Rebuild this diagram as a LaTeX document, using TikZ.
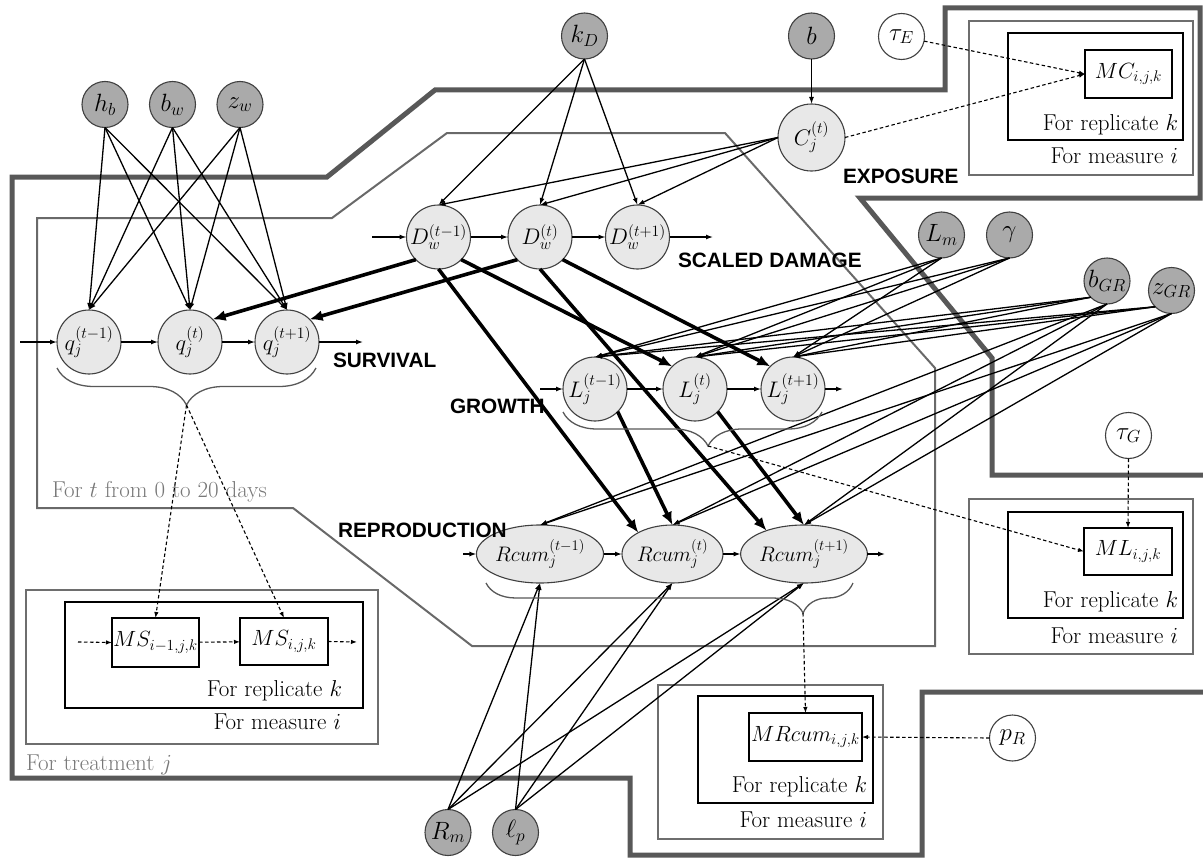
\RequirePackage{fix-cm}
\documentclass[tikz,border=0pt]{standalone}
\usepackage{fontspec}
\newfontfamily\headfont{Liberation Sans}
\usetikzlibrary{arrows.meta,shapes.geometric,decorations.pathreplacing}

\definecolor{paramgray}{RGB}{170,170,170}
\definecolor{stategray}{RGB}{232,232,232}
\definecolor{edgegray}{RGB}{64,64,64}
\definecolor{framedark}{RGB}{88,88,88}
\definecolor{framemid}{RGB}{105,105,105}
\definecolor{boxgray}{RGB}{110,110,110}
\definecolor{labelgray}{RGB}{120,120,120}

\begin{document}
\begin{tikzpicture}[x=1pt,y=-1pt,
  every node/.style={inner sep=0pt,outer sep=0pt},
  mathtxt/.style={font=\fontsize{22.5}{26}\selectfont},
  ellmath/.style={font=\fontsize{21}{25}\selectfont},
  parammath/.style={font=\fontsize{25}{29}\selectfont},
  boxmath/.style={font=\fontsize{22}{26}\selectfont},
  param/.style={circle,draw=edgegray,fill=paramgray,line width=1.1pt,minimum size=46pt,parammath},
  hyper/.style={circle,draw=edgegray,fill=white,line width=1.1pt,minimum size=46pt,parammath},
  statenode/.style={circle,draw=edgegray,fill=stategray,line width=1.1pt,minimum size=64pt,mathtxt},
  stateell/.style={ellipse,draw=edgegray,fill=stategray,line width=1.1pt,minimum width=101pt,minimum height=58pt,ellmath},
  obsbox/.style={draw=black,line width=2.8pt,boxmath},
  repbox/.style={draw=black,line width=2pt},
  measbox/.style={draw=boxgray,line width=1.4pt},
  platetext/.style={font=\fontsize{23}{27}\selectfont,anchor=base east},
  headlabel/.style={font=\headfont\bfseries\fontsize{20.8}{24}\selectfont,anchor=base west},
  thinedge/.style={line width=1.3pt,-{Latex[length=7pt,width=5pt]}},
  thickedge/.style={line width=3.6pt,-{Latex[length=13pt,width=11pt]}},
  dashedge/.style={line width=1.1pt,dash pattern=on 3.5pt off 2.5pt,-{Latex[length=6pt,width=4.5pt]}},
  bracestyle/.style={draw=framedark,line width=1.3pt,decorate}]

\useasboundingbox (0,0) rectangle (1203,859);

% plate frames
\begin{scope}
  \clip (0,0) rectangle (1203,859);
  % treatment plate (thick)
  \draw[framedark,line width=5pt,line join=miter]
    (12,177) -- (327,177) -- (435,90) -- (945,90) -- (945,8) -- (1200,8)
    -- (1200,198) -- (860,198) -- (992,358) -- (992,475) -- (1215,475)
    -- (1215,692) -- (922,692) -- (922,855) -- (630,855) -- (630,778)
    -- (12,778) -- cycle;
  % time plate (thin)
  \draw[framemid,line width=2pt,line join=miter]
    (37,218) -- (332,218) -- (447,133) -- (725,133) -- (935,368)
    -- (935,646) -- (472,646) -- (293,508) -- (37,508) -- cycle;
\end{scope}

\node[anchor=base west,font=\fontsize{23}{27}\selectfont,text=labelgray] (tlabel) at (52,497) {For $t$ from 0 to 20 days};
\node[anchor=base west,font=\fontsize{23}{27}\selectfont,text=labelgray] (jlabel) at (26,770) {For treatment $j$};

% measurement plates
\draw[measbox] (969,21) rectangle (1193,175);
\draw[repbox] (1008,33) rectangle (1183,140);
\node[platetext] (mcrep) at (1178,130) {For replicate $k$};
\node[platetext] (mcmeas) at (1178,163) {For measure $i$};

\draw[measbox] (969,499) rectangle (1193,654);
\draw[repbox] (1008,512) rectangle (1183,618);
\node[platetext] (mlrep) at (1178,607) {For replicate $k$};
\node[platetext] (mlmeas) at (1178,643) {For measure $i$};

\draw[measbox] (658,685) rectangle (883,839);
\draw[repbox] (698,696) rectangle (873,803);
\node[platetext] (mrrep) at (867,792) {For replicate $k$};
\node[platetext] (mrmeas) at (867,827) {For measure $i$};

\draw[measbox] (26,590) rectangle (378,744);
\draw[repbox] (65,602) rectangle (363,708);
\node[platetext] (msrep) at (342,696) {For replicate $k$};
\node[platetext] (msmeas) at (341,729) {For measure $i$};

% observation nodes
\node[obsbox,minimum width=87pt,minimum height=48pt] (MC) at (1128.5,74) {$MC_{i,j,k}$};
\node[obsbox,minimum width=88pt,minimum height=47pt] (ML) at (1128,551.5) {$ML_{i,j,k}$};
\node[obsbox,minimum width=113pt,minimum height=48pt] (MR) at (805.5,737) {$MRcum_{i,j,k}$};
\node[obsbox,minimum width=87pt,minimum height=49pt] (MS1) at (155.5,642.5) {$MS_{i-1,j,k}$};
\node[obsbox,minimum width=88pt,minimum height=47pt] (MS2) at (284,641.5) {$MS_{i,j,k}$};

% parameter nodes
\node[param] (hb) at (105,104.5) {$h_b$};
\node[param] (bw) at (172.5,104.5) {$b_w$};
\node[param] (zw) at (240,104.5) {$z_w$};
\node[param] (kD) at (584.5,36) {$k_D$};
\node[param] (b) at (811.5,36) {$b$};
\node[param] (Lm) at (941.5,235) {$L_m$};
\node[param] (gam) at (1009.5,235) {$\gamma$};
\node[param] (bGR) at (1107,281) {$b_{GR}$};
\node[param] (zGR) at (1171.5,290.5) {$z_{GR}$};
\node[param] (Rm) at (448,832.5) {$R_m$};
\node[param] (lp) at (515.5,832.5) {$\ell_p$};
\node[hyper] (tauE) at (901.5,36.5) {$\tau_E$};
\node[hyper] (tauG) at (1128.5,435.5) {$\tau_G$};
\node[hyper] (pR) at (1012.5,738) {$p_R$};

% state nodes
\node[statenode,minimum size=67pt] (C) at (811.5,137.5) {$C_j^{(t)}$};
\node[statenode] (D1) at (438.5,237) {$D_w^{(t-1)}$};
\node[statenode] (D2) at (540,237) {$D_w^{(t)}$};
\node[statenode] (D3) at (637.5,237) {$D_w^{(t+1)}$};
\node[statenode] (q1) at (89,342) {$q_j^{(t-1)}$};
\node[statenode] (q2) at (190,342) {$q_j^{(t)}$};
\node[statenode] (q3) at (287,342) {$q_j^{(t+1)}$};
\node[statenode] (L1) at (595,389) {$L_j^{(t-1)}$};
\node[statenode] (L2) at (695,389) {$L_j^{(t)}$};
\node[statenode] (L3) at (793,389) {$L_j^{(t+1)}$};
\node[stateell] (R1) at (540,554) {$Rcum_j^{(t-1)}$};
\node[stateell] (R2) at (672.5,554) {$Rcum_j^{(t)}$};
\node[stateell] (R3) at (804,554) {$Rcum_j^{(t+1)}$};

% section headings
\node[headlabel] (survival) at (333,367) {SURVIVAL};
\node[headlabel] (damage) at (678,267) {SCALED DAMAGE};
\node[headlabel] (exposure) at (843,183) {EXPOSURE};
\node[headlabel] (growth) at (450,413) {GROWTH};
\node[headlabel] (repro) at (338,537) {REPRODUCTION};

% chain ends
\coordinate (qin) at (20,342);
\coordinate (qout) at (363,342);
\coordinate (Din) at (372,237);
\coordinate (Dout) at (713,237);
\coordinate (Lin) at (540,389);
\coordinate (Lout) at (843,389);
\coordinate (Rin) at (463,554);
\coordinate (Rout) at (885,554);
\coordinate (MSin) at (78,642);
\coordinate (MSout) at (357,642);

% time chains
\draw[thinedge] (qin) -- (q1.west);
\draw[thinedge] (q1) -- (q2);
\draw[thinedge] (q2) -- (q3);
\draw[thinedge] (q3.east) -- (qout);
\draw[thinedge] (Din) -- (D1.west);
\draw[thinedge] (D1) -- (D2);
\draw[thinedge] (D2) -- (D3);
\draw[thinedge] (D3.east) -- (Dout);
\draw[thinedge] (Lin) -- (L1.west);
\draw[thinedge] (L1) -- (L2);
\draw[thinedge] (L2) -- (L3);
\draw[thinedge] (L3.east) -- (Lout);
\draw[thinedge] (Rin) -- (R1.west);
\draw[thinedge] (R1) -- (R2);
\draw[thinedge] (R2) -- (R3);
\draw[thinedge] (R3.east) -- (Rout);

% survival parameters
\foreach \p in {hb,bw,zw}
  \foreach \t in {q1,q2,q3}
    \draw[thinedge] (\p.south) -- (\t.north);

% damage parameters
\foreach \t in {D1,D2,D3} {
  \draw[thinedge] (kD.south) -- (\t.north);
  \draw[thinedge] (C.west) -- (\t.north);
}
\draw[thinedge] (b.south) -- (C.north);

% growth parameters
\foreach \t in {L1,L2,L3} {
  \draw[thinedge] (Lm.south) -- (\t.north);
  \draw[thinedge] (gam.south) -- (\t.north);
  \draw[thinedge] (bGR.south west) -- (\t.north);
  \draw[thinedge] (zGR.south west) -- (\t.north);
}
% reproduction parameters
\foreach \t in {R1,R2,R3} {
  \draw[thinedge] (bGR.south) -- (\t.north);
  \draw[thinedge] (zGR.south) -- (\t.north);
  \draw[thinedge] (Rm.north) -- (\t.south);
  \draw[thinedge] (lp.north) -- (\t.south);
}

% damage and length effects
\draw[thickedge] (D1.south west) -- (q2.north east);
\draw[thickedge] (D2.south west) -- (q3.north east);
\draw[thickedge] (D1.south east) -- (L2.north west);
\draw[thickedge] (D2.south east) -- (L3.north west);
\draw[thickedge] (D1.south) -- (R2.148);
\draw[thickedge] (D2.south) -- (R3.148);
\draw[thickedge] (L1.south east) -- (R2.north);
\draw[thickedge] (L2.south east) -- (R3.north);

% braces over time series
\draw[bracestyle,decoration={brace,mirror,amplitude=37pt,aspect=0.5}] (57,368) -- (316,368);
\draw[bracestyle,decoration={brace,mirror,amplitude=34pt,aspect=0.56}] (563,412) -- (822,412);
\draw[bracestyle,decoration={brace,mirror,amplitude=30pt,aspect=0.864}] (486,583) -- (853,583);
\coordinate (qtip) at (186.5,405);
\coordinate (Ltip) at (708,446);
\coordinate (Rtip) at (803,613);

% observation links
\draw[dashedge] (qtip) -- (MS1.north);
\draw[dashedge] (qtip) -- (MS2.north);
\draw[dashedge] (MSin) -- (MS1.west);
\draw[dashedge] (MS1) -- (MS2);
\draw[dashedge] (MS2.east) -- (MSout);
\draw[dashedge] (Ltip) -- (ML.west);
\draw[dashedge] (tauG.south) -- (ML.north);
\draw[dashedge] (Rtip) -- (MR.north);
\draw[dashedge] (pR.west) -- (MR.east);
\draw[dashedge] (C.east) -- (MC.west);
\draw[dashedge] (tauE) -- (MC.west);

\end{tikzpicture}
\end{document}
